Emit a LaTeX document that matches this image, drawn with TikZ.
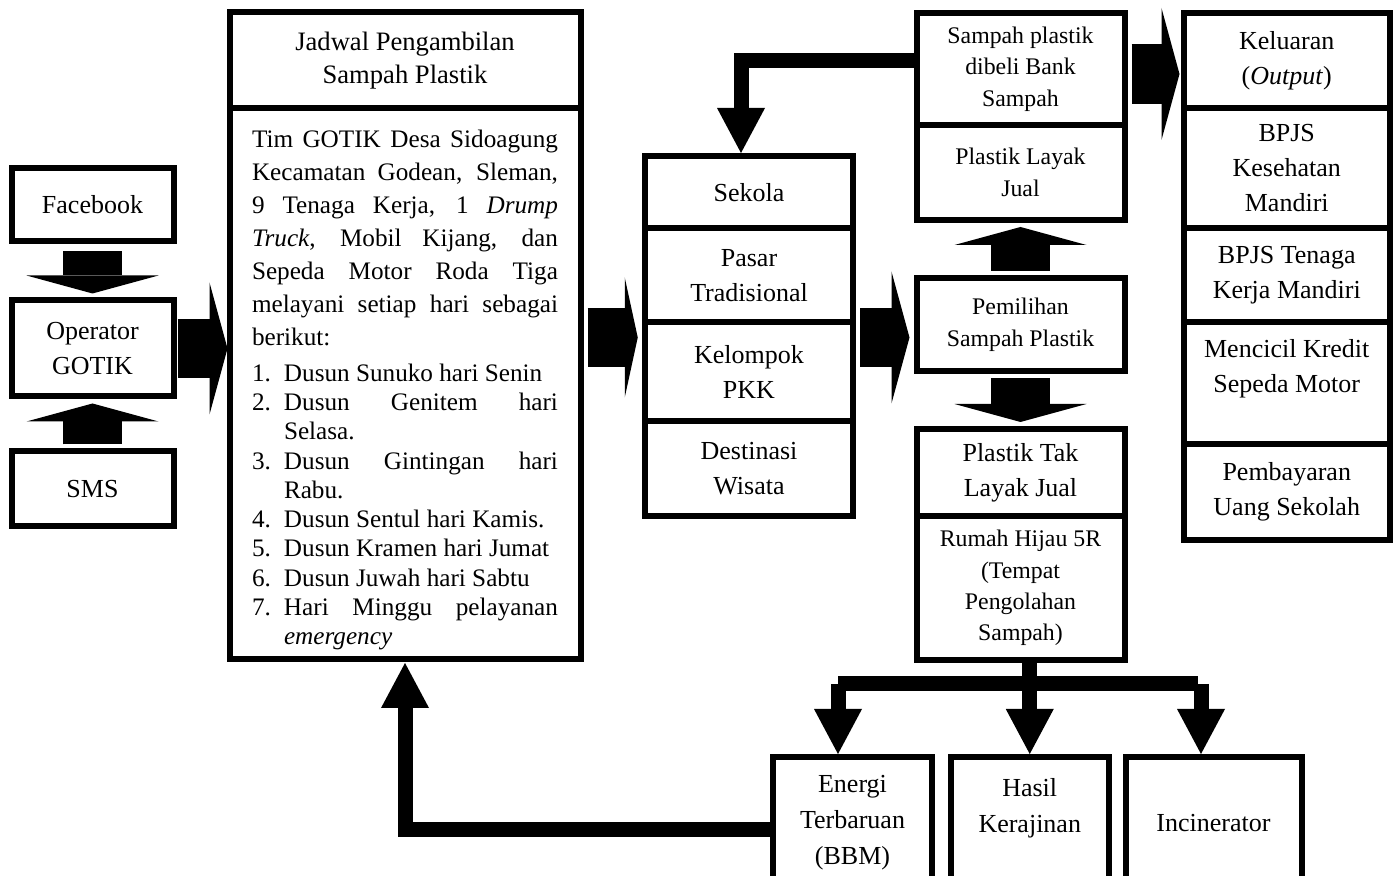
\documentclass[tikz,border=0pt]{standalone}
\usepackage{fontspec}
\setmainfont{Liberation Serif}
\usetikzlibrary{arrows.meta, positioning}
\newcommand{\jadwalitem}[2]{\par\noindent\hangindent=16pt\hangafter=1\makebox[16pt][l]{#1}#2\par}

\begin{document}
\begin{tikzpicture}[
    x=0.5pt, y=-0.5pt,
    node distance=0pt,
    box/.style={rectangle, draw, line width=3pt, outer sep=0pt, inner sep=2pt, align=center, font=\fontsize{13}{17.5}\selectfont},
    small/.style={font=\fontsize{11.9}{15.7}\selectfont},
    blockarrow/.style={line width=29.75pt, -{Triangle[length=9pt, width=66pt, line width=0pt]}, shorten <=3.5pt, shorten >=3.5pt},
    pipe/.style={line width=7.5pt, -{Triangle[length=22.5pt, width=24pt, line width=0pt]}, shorten >=1.5pt}
]
\useasboundingbox (0,0) rectangle (1394,876);
\clip (0,0) rectangle (1394,876);

\node[box, minimum width=81pt, minimum height=36.5pt] (fb) at (92.5,205) {Facebook};
\node[box, minimum width=81pt, minimum height=48pt] (op) at (92.5,348.5) {Operator\\GOTIK};
\node[box, minimum width=81pt, minimum height=37.5pt] (sms) at (92.5,489) {SMS};

\node[box, minimum width=175.5pt, minimum height=48pt, font=\fontsize{13.3}{16.5}\selectfont] (jhead) at (405,60.5) {Jadwal Pengambilan\\Sampah Plastik};
\node[box, below=of jhead, minimum width=175.5pt, minimum height=275.25pt, text width=153pt, align=justify, font=\fontsize{12.6}{16.5}\selectfont] (jbody) {\tolerance=9999\hyphenpenalty=10000
  \rule{0pt}{15pt}Tim GOTIK Desa Sidoagung\linebreak Kecamatan Godean, Sleman,\linebreak 9 Tenaga Kerja, 1 \textit{Drump}\linebreak \textit{Truck}, Mobil Kijang, dan\linebreak Sepeda Motor Roda Tiga\linebreak melayani setiap hari sebagai\linebreak berikut:\par
  \fontsize{12.6}{14.65}\selectfont\vspace{3.35pt}
  \jadwalitem{1.}{Dusun Sunuko hari Senin}
  \jadwalitem{2.}{Dusun Genitem hari\linebreak Selasa.}
  \jadwalitem{3.}{Dusun Gintingan hari\linebreak Rabu.}
  \jadwalitem{4.}{Dusun Sentul hari Kamis.}
  \jadwalitem{5.}{Dusun Kramen hari Jumat}
  \jadwalitem{6.}{Dusun Juwah hari Sabtu}
  \jadwalitem{7.}{Hari Minggu pelayanan\linebreak \textit{emergency}}};

\node[box, minimum width=104.25pt, minimum height=36.25pt] (sekola) at (749,192.25) {Sekola};
\node[box, below=of sekola, minimum width=104.25pt, minimum height=46.75pt] (pasar) {Pasar\\Tradisional};
\node[box, below=of pasar, minimum width=104.25pt, minimum height=49.5pt] (pkk) {Kelompok\\PKK};
\node[box, below=of pkk, minimum width=104.25pt, minimum height=47.75pt] (wisata) {Destinasi\\Wisata};

\node[box, small, minimum width=104pt, minimum height=56pt] (beli) at (1020.5,69) {Sampah plastik\\dibeli Bank\\Sampah};
\node[box, small, below=of beli, minimum width=104pt, minimum height=47.5pt] (layak) {Plastik Layak\\Jual};
\node[box, small, minimum width=104pt, minimum height=46.75pt] (pilih) at (1020.5,324.75) {Pemilihan\\Sampah Plastik};
\node[box, minimum width=104pt, minimum height=43.5pt] (tak) at (1020.5,472.5) {Plastik Tak\\Layak Jual};
\node[box, small, below=of tak, minimum width=104pt, minimum height=72pt] (rumah) {Rumah Hijau 5R\\(Tempat\\Pengolahan\\Sampah)};

\node[box, minimum width=103.25pt, minimum height=47.75pt] (kel) at (1286.75,60.75) {Keluaran\\(\textit{Output})};
\node[box, below=of kel, minimum width=103.25pt, minimum height=60pt] (kes) {BPJS\\Kesehatan\\Mandiri};
\node[box, below=of kes, minimum width=103.25pt, minimum height=46.75pt] (tk) {BPJS Tenaga\\Kerja Mandiri};
\node[box, below=of tk, minimum width=103.25pt, minimum height=61.25pt] (kredit) {Mencicil Kredit\\Sepeda Motor\\\mbox{}};
\node[box, below=of kredit, minimum width=103.25pt, minimum height=47.75pt] (bayar) {Pembayaran\\Uang Sekolah};

\node[box, minimum width=79.5pt, minimum height=66pt, font=\fontsize{13}{18}\selectfont] (energi) at (852.5,823) {Energi\\Terbaruan\\(BBM)};
\node[box, minimum width=79.25pt, minimum height=66pt, font=\fontsize{13}{18}\selectfont] (hasil) at (1029.75,823) {Hasil\\Kerajinan\\\mbox{}};
\node[box, minimum width=88pt, minimum height=66pt, font=\fontsize{13}{18}\selectfont] (incin) at (1213.5,823) {Incinerator};

\coordinate (row) at (0,337.5);
\coordinate (belirow) at ([yshift=-2.5pt]beli.east);
\coordinate (tosek) at ([yshift=4pt]beli.west);
\coordinate (fbk) at ([yshift=-3.25pt]energi.west);
\coordinate (barL) at (838,684);
\coordinate (barR) at (1201,684);

\draw[blockarrow, shorten <=5pt] (fb) -- (op);
\draw[blockarrow] (sms) -- (op);
\draw[blockarrow, shorten <=2pt, shorten >=1pt] (op) -- (op -| jbody.west);
\draw[blockarrow, -{Triangle[length=6.5pt, width=60pt, line width=0pt]}] (jbody.east |- row) -- (pasar.west |- row);
\draw[blockarrow] (pasar.east |- row) -- (pilih.west |- row);
\draw[blockarrow] (pilih) -- (layak);
\draw[blockarrow] (pilih) -- (tak);
\draw[blockarrow, shorten >=2pt] (belirow) -- (belirow -| kel.west);

\draw[pipe] (tosek) -| ([xshift=-4pt]sekola.north);
\draw[pipe, shorten >=2pt] (fbk) -| (jbody.south);
\draw[pipe] (rumah.south -| hasil.north) -- (hasil.north);
\draw[pipe, -] (barL) -- (barR);
\draw[pipe] (barL) -- (barL |- energi.north);
\draw[pipe] (barR) -- (barR |- incin.north);
\end{tikzpicture}
\end{document}
